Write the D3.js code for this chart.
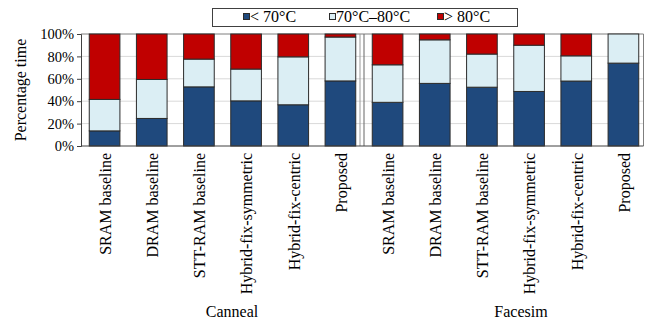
<!DOCTYPE html>
<html>
<head>
<meta charset="utf-8">
<script src="https://cdn.jsdelivr.net/npm/d3@7"></script>
<style>
  html, body { margin: 0; padding: 0; background: #fff; }
  svg { display: block; }
  svg text { font-family: "Liberation Serif", "Times New Roman", Tinos, serif; fill: #000; }
</style>
</head>
<body>
<svg id="chart" width="654" height="326" font-family="Liberation Serif"></svg>
<script>
// Share of run time spent in each temperature range, per configuration and workload
const configs = ["SRAM baseline", "DRAM baseline", "STT-RAM baseline",
                 "Hybrid-fix-symmetric", "Hybrid-fix-centric", "Proposed"];
const workloads = ["Canneal", "Facesim"];
const below70 = [13.5, 24.6, 52.8, 40.3, 36.8, 58.1, 39.0, 55.9, 52.5, 48.7, 58.0, 74.0];
const between70and80 = [28.1, 34.8, 24.8, 28.4, 42.8, 39.2, 33.5, 38.9, 29.6, 41.3, 22.5, 26.0];
const above80 = [58.4, 40.6, 22.4, 31.3, 20.4, 2.7, 27.5, 5.2, 17.9, 10.0, 19.5, 0.0];
const seriesNames = ["< 70°C", "70°C–80°C", "> 80°C"];
const seriesColors = ["#1f497d", "#dbeef4", "#c00000"];
const yTicks = [0, 20, 40, 60, 80, 100];

// One row per bar, keyed by workload and configuration
const rows = [];
workloads.forEach((w, wi) => configs.forEach((c, ci) => {
  const i = wi * configs.length + ci;
  rows.push({ key: w + "|" + c, workload: w, config: c,
              s0: below70[i], s1: between70and80[i], s2: above80[i] });
}));

const svg = d3.select("#chart");
const plot = { left: 81, right: 643.5, top: 34, bottom: 146 };

const x = d3.scaleBand()
  .domain(rows.map(d => d.key))
  .range([81, 647])
  .paddingInner(0.35)
  .paddingOuter(0.175);
const y = d3.scaleLinear().domain([0, 100]).range([plot.bottom, plot.top]);

// Horizontal gridlines
svg.append("g").selectAll("line")
  .data(yTicks.filter(t => t > 0 && t < 100))
  .join("line")
  .attr("x1", plot.left).attr("x2", plot.right)
  .attr("y1", d => y(d)).attr("y2", d => y(d))
  .attr("stroke", "#d9d9d9").attr("stroke-width", 1);

// Plot frame (top and right edges)
svg.append("path")
  .attr("d", `M${plot.left},${plot.top}H${plot.right}V${plot.bottom}`)
  .attr("fill", "none").attr("stroke", "#7f7f7f").attr("stroke-width", 1);

// Stacked bars
const stack = d3.stack().keys(["s0", "s1", "s2"]);
const layers = stack(rows);
svg.append("g").selectAll("g")
  .data(layers)
  .join("g")
  .attr("fill", (d, i) => seriesColors[i])
  .selectAll("rect")
  .data(d => d.filter(p => p[1] - p[0] > 0))
  .join("rect")
  .attr("x", p => x(p.data.key))
  .attr("width", x.bandwidth())
  .attr("y", p => y(p[1]))
  .attr("height", p => y(p[0]) - y(p[1]))
  .attr("stroke", "#2b2b2b").attr("stroke-width", 1);

// Double line between the two workload groups
const midX = (x(rows[5].key) + x.bandwidth() + x(rows[6].key)) / 2;
[-4, 0].forEach((off, i) => {
  svg.append("line")
    .attr("x1", midX + off).attr("x2", midX + off)
    .attr("y1", plot.top).attr("y2", plot.bottom)
    .attr("stroke", i === 0 ? "#9a9a9a" : "#666").attr("stroke-width", 1);
});

// Y axis
const yAxis = svg.append("g")
  .attr("transform", `translate(${plot.left},0)`)
  .call(d3.axisLeft(y).tickValues(yTicks).tickFormat(d => d + "%")
    .tickSize(4).tickPadding(3));
yAxis.attr("font-family", "Liberation Serif").attr("font-size", 14.5);
yAxis.select(".domain").attr("stroke", "#404040");
yAxis.selectAll(".tick line").attr("stroke", "#404040");

// Baseline
svg.append("line")
  .attr("x1", plot.left).attr("x2", plot.right)
  .attr("y1", plot.bottom).attr("y2", plot.bottom)
  .attr("stroke", "#404040").attr("stroke-width", 1);

// Y axis title
svg.append("text")
  .attr("transform", `translate(26,${(plot.top + plot.bottom) / 2}) rotate(-90)`)
  .attr("text-anchor", "middle")
  .attr("font-size", 16)
  .text("Percentage time");

// Rotated configuration labels
svg.append("g").selectAll("text")
  .data(rows)
  .join("text")
  .attr("transform", d => `translate(${x(d.key) + x.bandwidth() / 2},${plot.bottom + 7}) rotate(-90)`)
  .attr("text-anchor", "end")
  .attr("dy", "0.4em")
  .attr("font-size", 16)
  .text(d => d.config);

// Workload labels
const groupX = { Canneal: 232, Facesim: 521 };
svg.append("g").selectAll("text")
  .data(workloads)
  .join("text")
  .attr("x", d => groupX[d])
  .attr("y", 317)
  .attr("text-anchor", "middle")
  .attr("font-size", 16)
  .text(d => d);

// Legend
const legend = svg.append("g");
legend.append("rect")
  .attr("x", 212.5).attr("y", 8.5).attr("width", 305).attr("height", 18)
  .attr("fill", "#fff").attr("stroke", "#404040").attr("stroke-width", 1);
const legendX = [243, 329, 437];
seriesNames.forEach((name, i) => {
  legend.append("rect")
    .attr("x", legendX[i] + 0.5).attr("y", 13.5).attr("width", 6).attr("height", 6)
    .attr("fill", seriesColors[i]).attr("stroke", "#2b2b2b").attr("stroke-width", 1);
  legend.append("text")
    .attr("x", legendX[i] + 7).attr("y", 21.5)
    .attr("font-size", 16)
    .text(name);
});
</script>
</body>
</html>
